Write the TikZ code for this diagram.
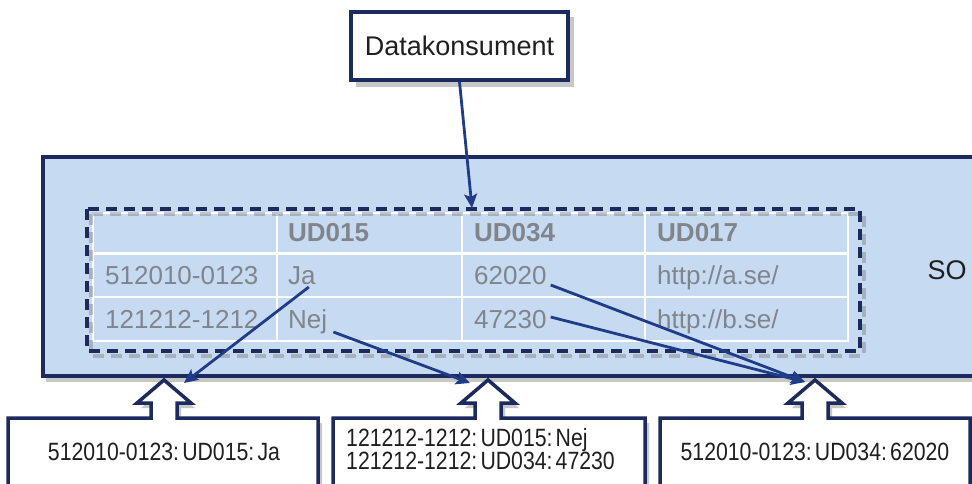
\documentclass[tikz,border=0pt]{standalone}
\usepackage{fontspec}
\setmainfont{Liberation Sans}
\usetikzlibrary{arrows.meta,calc}

\definecolor{navy}{HTML}{1C2A5E}
\definecolor{arrowblue}{HTML}{1F3C88}
\definecolor{panel}{HTML}{C6DAF1}
\definecolor{celltext}{HTML}{80858C}

% entries of the form id: field: value, set slightly condensed
\newcommand{\entry}[3]{#1:\hspace{0.15em}#2:\hspace{0.15em}#3}

\begin{document}
\begin{tikzpicture}[x=1pt,y=-1pt,
  conn/.style={draw=arrowblue,line width=2.8pt,
    -{Stealth[length=14pt,width=13pt,inset=3pt]}},
  boxline/.style={draw=navy,line width=3.5pt,line join=miter},
  softshadow/.style={fill=black,opacity=0.22},
  cell/.style={anchor=base west,inner sep=0pt,text=celltext,
    font=\fontsize{26}{30}\selectfont},
  headcell/.style={cell,font=\fontsize{26}{30}\selectfont\bfseries},
  grid/.style={draw=white,line width=1.4pt},
  calltext/.style={inner sep=0pt,text=black!88,
    font=\fontsize{25}{28}\selectfont}]
\useasboundingbox (0,0) rectangle (972,484);
\clip (0,0) rectangle (972,484);

% consumer box with its shadow
\fill[softshadow] (356,17) rectangle (574,87);
\node[boxline,fill=white,minimum width=217pt,minimum height=68pt,
  inner sep=0pt,font=\fontsize{27}{30}\selectfont,text=black!88]
  (consumer) at (459.5,46) {Datakonsument};

% service panel
\fill[softshadow] (46,163) rectangle (995,382);
\draw[boxline,fill=panel] (43,157) rectangle (995,376);
\node[inner sep=0pt,font=\fontsize{27}{30}\selectfont,text=black!88]
  (so) at (947,270) {SO};

% table grid
\draw[grid] (93,213) rectangle (848,341);
\draw[draw=white,line width=3pt] (93,253) -- (848,253);
\draw[grid] (93,297) -- (848,297);
\foreach \cx in {277,462,645} \draw[grid] (\cx,213) -- (\cx,341);

% dashed selection frame with its shadow
\draw[draw=gray,opacity=0.45,line width=3.5pt,dash pattern=on 11pt off 7pt]
  (91,214) rectangle (864,356);
\draw[draw=navy,line width=3.5pt,dash pattern=on 11pt off 7pt]
  (87,209) rectangle (860,351);
\coordinate (frametop) at (472,208);

% table contents
\node[headcell] (h1) at (288,241) {UD015};
\node[headcell] (h2) at (474,241) {UD034};
\node[headcell] (h3) at (657,241) {UD017};
\node[cell] (p1)  at (105,284) {512010-0123};
\node[cell] (ja)  at (288,284) {Ja};
\node[cell] (v62) at (474,284) {62020};
\node[cell] (u1)  at (657,284) {http://a.se/};
\node[cell] (p2)  at (105,328) {121212-1212};
\node[cell] (nej) at (288,328) {Nej};
\node[cell] (v47) at (474,328) {47230};
\node[cell] (u2)  at (657,328) {http://b.se/};

% callout boxes with upward block arrows
\foreach \lx/\rx/\cx/\nm in {8/318/164/ca,333/645/488/cb,660/970/815/cc}{
  \fill[softshadow]
    ($(\lx,418)+(4,5)$) -- ($(\cx-13,418)+(4,5)$) -- ($(\cx-13,403)+(4,5)$)
    -- ($(\cx-27,403)+(4,5)$) -- ($(\cx,380)+(4,5)$) -- ($(\cx+27,403)+(4,5)$)
    -- ($(\cx+13,403)+(4,5)$) -- ($(\cx+13,418)+(4,5)$) -- ($(\rx,418)+(4,5)$)
    -- ($(\rx,500)+(4,5)$) -- ($(\lx,500)+(4,5)$) -- cycle;
  \draw[boxline,fill=white]
    (\lx,418) -- (\cx-13,418) -- (\cx-13,403) -- (\cx-27,403) -- (\cx,380)
    -- (\cx+27,403) -- (\cx+13,403) -- (\cx+13,418) -- (\rx,418)
    -- (\rx,500) -- (\lx,500) -- cycle;
  \coordinate (\nm) at (\cx,380);
}

\node[calltext] (t1) at (164,452)
  {\scalebox{0.85}[1]{\entry{512010-0123}{UD015}{Ja}}};
\node[calltext,anchor=west,align=left] (t2) at (346,449)
  {\scalebox{0.85}[1]{\shortstack[l]{\entry{121212-1212}{UD015}{Nej}\\[-2pt]\entry{121212-1212}{UD034}{47230}}}};
\node[calltext] (t3) at (815,452)
  {\scalebox{0.85}[1]{\entry{512010-0123}{UD034}{62020}}};

% data flow connectors
\draw[conn] (consumer.south) -- (frametop);
\draw[conn] ($(ja.base east)+(-7,3)$) -- ($(ca)+(20,3)$);
\draw[conn] ($(nej.base east)+(6,4)$) -- ($(cb)+(-18,3)$);
\draw[conn] ($(v62.base east)+(4,1)$) -- ($(cc)+(-10,2)$);
\draw[conn] ($(v47.base east)+(4,-11)$) -- ($(cc)+(-10,2)$);
\end{tikzpicture}
\end{document}
